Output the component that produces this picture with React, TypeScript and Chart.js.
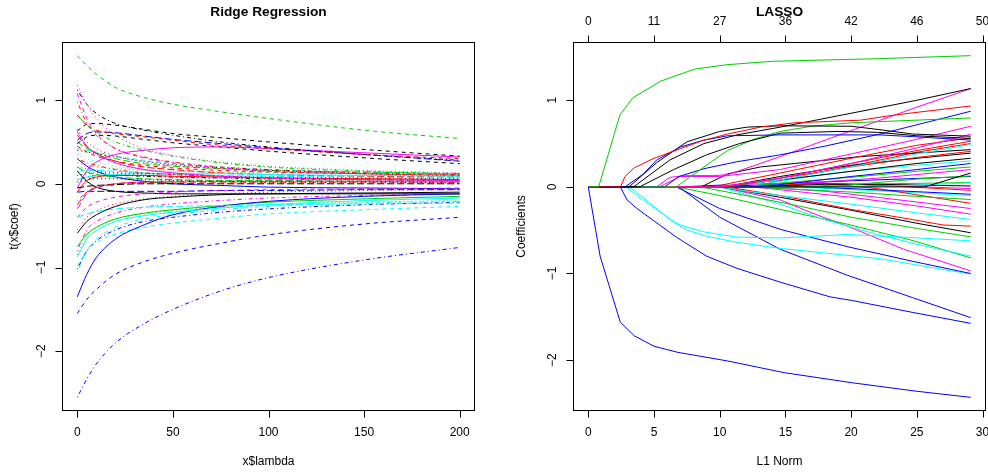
import React, { useEffect, useRef } from 'react';
import { Chart, registerables } from 'chart.js';
Chart.register(...registerables);

// ---------- Ridge regression data (coefficient paths vs lambda) ----------
const ridgeLambda = [0, 5, 10, 20, 35, 50, 75, 100, 150, 200];
const ridgeCoef: number[][] = [
  [-0.59, -0.45, -0.37, -0.27, -0.19, -0.16, -0.13, -0.12, -0.11, -0.10],
  [0.82, 0.70, 0.64, 0.60, 0.56, 0.52, 0.46, 0.42, 0.35, 0.30],
  [0.25, 0.22, 0.20, 0.18, 0.16, 0.15, 0.14, 0.13, 0.12, 0.11],
  [-2.55, -2.33, -2.15, -1.90, -1.67, -1.50, -1.28, -1.12, -0.91, -0.76],
  [-0.40, -0.36, -0.33, -0.30, -0.28, -0.27, -0.26, -0.25, -0.24, -0.23],
  [0.62, 0.45, 0.36, 0.25, 0.17, 0.13, 0.09, 0.07, 0.05, 0.04],
  [0.63, 0.71, 0.72, 0.70, 0.65, 0.60, 0.55, 0.50, 0.41, 0.33],
  [-0.55, -0.40, -0.32, -0.24, -0.18, -0.15, -0.12, -0.10, -0.08, -0.07],
  [0.82, 0.70, 0.62, 0.50, 0.40, 0.33, 0.25, 0.20, 0.15, 0.12],
  [0.52, 0.60, 0.62, 0.61, 0.57, 0.53, 0.48, 0.43, 0.35, 0.27],
  [-0.88, -0.66, -0.56, -0.45, -0.38, -0.34, -0.29, -0.25, -0.20, -0.17],
  [-0.40, -0.28, -0.22, -0.16, -0.12, -0.10, -0.08, -0.07, -0.06, -0.05],
  [0.02, 0.05, 0.06, 0.06, 0.05, 0.04, 0.03, 0.02, 0.02, 0.01],
  [0.30, 0.25, 0.22, 0.17, 0.13, 0.11, 0.09, 0.07, 0.06, 0.05],
  [0.20, 0.14, 0.11, 0.08, 0.06, 0.05, 0.04, 0.04, 0.03, 0.03],
  [-1.35, -1.08, -0.88, -0.66, -0.49, -0.37, -0.27, -0.21, -0.15, -0.12],
  [-0.98, -0.80, -0.70, -0.60, -0.52, -0.47, -0.41, -0.36, -0.31, -0.27],
  [1.18, 0.95, 0.78, 0.58, 0.42, 0.34, 0.26, 0.21, 0.16, 0.13],
  [1.12, 0.95, 0.84, 0.72, 0.64, 0.58, 0.50, 0.44, 0.35, 0.28],
  [-0.25, -0.10, -0.04, 0.00, 0.02, 0.02, 0.02, 0.02, 0.02, 0.02],
  [-0.75, -0.60, -0.52, -0.42, -0.35, -0.31, -0.26, -0.22, -0.18, -0.15],
  [-1.55, -1.38, -1.26, -1.08, -0.93, -0.83, -0.71, -0.61, -0.48, -0.40],
  [0.35, 0.30, 0.26, 0.21, 0.17, 0.15, 0.13, 0.11, 0.10, 0.09],
  [-0.80, -0.55, -0.45, -0.35, -0.28, -0.24, -0.20, -0.17, -0.14, -0.12],
  [-0.05, -0.03, -0.02, -0.01, 0.00, 0.00, 0.00, 0.00, 0.00, 0.00],
  [-0.10, 0.04, 0.08, 0.10, 0.10, 0.09, 0.08, 0.07, 0.06, 0.05],
  [1.53, 1.41, 1.31, 1.15, 1.03, 0.95, 0.86, 0.78, 0.64, 0.54],
  [0.10, 0.12, 0.13, 0.13, 0.12, 0.11, 0.09, 0.08, 0.07, 0.06],
  [-1.05, -0.80, -0.66, -0.52, -0.42, -0.37, -0.31, -0.27, -0.23, -0.21],
  [-0.30, -0.12, -0.05, 0.00, 0.02, 0.03, 0.03, 0.03, 0.03, 0.02],
  [0.15, 0.03, -0.04, -0.09, -0.11, -0.12, -0.12, -0.12, -0.12, -0.12],
  [0.45, 0.38, 0.33, 0.27, 0.22, 0.19, 0.16, 0.14, 0.12, 0.10],
  [-0.85, -0.62, -0.52, -0.42, -0.36, -0.32, -0.28, -0.25, -0.22, -0.20],
  [-1.02, -0.80, -0.68, -0.55, -0.45, -0.40, -0.34, -0.30, -0.25, -0.22],
  [0.15, 0.16, 0.16, 0.15, 0.13, 0.12, 0.10, 0.09, 0.08, 0.07],
  [-0.05, 0.16, 0.26, 0.35, 0.40, 0.43, 0.44, 0.42, 0.37, 0.32],
  [0.48, 0.56, 0.58, 0.57, 0.53, 0.49, 0.44, 0.39, 0.31, 0.24],
  [0.65, 0.50, 0.42, 0.33, 0.26, 0.22, 0.18, 0.15, 0.12, 0.11],
  [-0.20, -0.10, -0.05, -0.01, 0.01, 0.02, 0.03, 0.03, 0.03, 0.03],
  [-0.10, -0.09, -0.09, -0.09, -0.09, -0.09, -0.08, -0.08, -0.07, -0.07],
  [0.05, 0.08, 0.10, 0.11, 0.12, 0.12, 0.12, 0.11, 0.10, 0.09],
  [1.08, 0.78, 0.60, 0.42, 0.31, 0.25, 0.19, 0.15, 0.12, 0.10],
  [0.40, 0.38, 0.36, 0.32, 0.27, 0.23, 0.19, 0.16, 0.12, 0.09],
  [0.98, 0.72, 0.58, 0.42, 0.32, 0.26, 0.20, 0.17, 0.13, 0.11],
  [0.50, 0.42, 0.37, 0.30, 0.24, 0.21, 0.18, 0.16, 0.14, 0.12],
  [0.30, 0.21, 0.15, 0.08, 0.03, 0.00, -0.02, -0.04, -0.05, -0.06],
  [0.42, 0.40, 0.38, 0.33, 0.28, 0.24, 0.20, 0.17, 0.14, 0.12],
  [0.20, 0.18, 0.16, 0.13, 0.10, 0.08, 0.06, 0.05, 0.04, 0.03],
  [0.05, 0.08, 0.10, 0.10, 0.09, 0.08, 0.07, 0.06, 0.05, 0.04],
  [0.58, 0.44, 0.36, 0.27, 0.20, 0.17, 0.13, 0.11, 0.09, 0.08],
];
const ridgeXTicks = [0, 50, 100, 150, 200];
const ridgeYTicks = [-2, -1, 0, 1];

// ---------- LASSO data (coefficient paths vs L1 norm, knots [L1, coef]) ----------
const lassoPaths: number[][][] = [
  [[0, 0], [0.79, 0], [2.4, 0.83], [3.4, 1.03], [5.5, 1.22], [8.1, 1.36], [10.5, 1.41], [14, 1.45], [22, 1.48], [29.1, 1.515]],
  [[0, 0], [0.9, -0.8], [2.43, -1.56], [3.5, -1.72], [5, -1.84], [6.8, -1.91], [10.6, -2.01], [14.9, -2.145], [20, -2.26], [25, -2.36], [29.1, -2.43]],
  [[0, 0], [2.45, 0], [2.8, 0.12], [3.5, 0.22], [5, 0.33], [7, 0.44], [8.6, 0.53], [10.6, 0.61], [13.1, 0.69], [15.7, 0.74], [20.7, 0.77], [23.3, 0.83], [29.1, 0.934]],
  [[0, 0], [2.8, 0], [4.2, 0.15], [5.2, 0.31], [7, 0.46], [8.8, 0.54], [10.6, 0.59], [14.6, 0.6], [22.2, 0.6], [24.7, 0.58], [29.1, 0.54]],
  [[0, 0], [3.1, 0], [5.2, 0.28], [7.5, 0.52], [10, 0.64], [12.1, 0.69], [14.6, 0.705], [20, 0.7], [22.2, 0.66], [24.7, 0.61], [29.1, 0.585]],
  [[0, 0], [3.45, 0], [6.2, 0.31], [8.8, 0.5], [11.3, 0.6], [14.6, 0.69], [20, 0.85], [25, 1.0], [29.1, 1.135]],
  [[0, 0], [3.9, 0], [6.5, 0.2], [9, 0.37], [11.5, 0.5], [14.6, 0.62], [19, 0.64], [22, 0.63], [25, 0.59], [29.1, 0.56]],
  [[0, 0], [6.7, 0], [8.8, 0.23], [10.6, 0.42], [12.6, 0.55], [14.6, 0.64], [17, 0.7], [20, 0.74], [29.1, 0.796]],
  [[0, 0], [5.8, 0], [6.9, 0.12], [8.8, 0.21], [11.3, 0.29], [14.6, 0.37], [18, 0.47], [22.2, 0.61], [29.1, 0.873]],
  [[0, 0], [5.2, 0], [6.2, 0.11], [7.5, 0.13], [9.5, 0.13], [10.6, 0.14], [14.6, 0.35], [20, 0.65], [25, 0.92], [29.1, 1.135]],
  [[0, 0], [5.4, 0], [7, 0.12], [10, 0.12], [14.6, 0.2], [20, 0.38], [25, 0.55], [29.1, 0.7]],
  [[0, 0], [10, 0], [14.6, 0.1], [20, 0.27], [25, 0.45], [29.1, 0.608]],
  [[0, 0], [9.5, 0], [12, 0.08], [14.6, 0.16], [20, 0.33], [25, 0.48], [29.1, 0.565]],
  [[0, 0], [10.5, 0], [14.6, 0.1], [20, 0.27], [25, 0.42], [29.1, 0.527]],
  [[0, 0], [10.1, 0], [14.6, 0.08], [20, 0.23], [25, 0.38], [29.1, 0.489]],
  [[0, 0], [8.6, 0], [10.6, 0.15], [13.1, 0.23], [15.7, 0.27], [20.7, 0.35], [29.1, 0.43]],
  [[0, 0], [10.6, 0], [14.6, 0.1], [20, 0.23], [25, 0.34], [29.1, 0.41]],
  [[0, 0], [10.3, 0], [14.6, 0.12], [20, 0.25], [25, 0.33], [29.1, 0.39]],
  [[0, 0], [10.1, 0], [14.6, 0.08], [20, 0.18], [25, 0.27], [29.1, 0.33]],
  [[0, 0], [13.1, 0], [16, 0.05], [20, 0.12], [25, 0.2], [29.1, 0.27]],
  [[0, 0], [11.8, 0], [15, 0.05], [20, 0.11], [25, 0.18], [29.1, 0.23]],
  [[0, 0], [25.6, 0], [29.1, 0.16]],
  [[0, 0], [18.2, 0], [22, 0.05], [25, 0.09], [29.1, 0.127]],
  [[0, 0], [20.7, 0], [25, 0.02], [29.1, 0.046]],
  [[0, 0], [13, 0], [18, 0.03], [22, 0.03], [29.1, 0.01]],
  [[0, 0], [13, 0], [17, 0.04], [22, 0.02], [29.1, -0.04]],
  [[0, 0], [9, 0], [12, 0.03], [17, 0.05], [22, 0.02], [29.1, -0.02]],
  [[0, 0], [7, 0], [10, 0.02], [14.6, 0.01], [20, -0.02], [29.1, -0.085]],
  [[0, 0], [12, 0], [16, -0.03], [20, -0.06], [25, -0.11], [29.1, -0.146]],
  [[0, 0], [13, 0], [16, 0.03], [18, 0.04], [22, -0.02], [29.1, -0.19]],
  [[0, 0], [13, 0], [18, -0.05], [22, -0.12], [29.1, -0.25]],
  [[0, 0], [12.5, 0], [20, -0.12], [25, -0.22], [29.1, -0.315]],
  [[0, 0], [10, 0], [12, -0.05], [14.6, -0.1], [20, -0.2], [25, -0.3], [29.1, -0.376]],
  [[0, 0], [10.5, 0], [14.6, -0.1], [20, -0.26], [24, -0.36], [27, -0.44], [29.1, -0.453]],
  [[0, 0], [10, 0], [14.6, -0.12], [20, -0.27], [25, -0.42], [29.1, -0.53]],
  [[0, 0], [8.5, 0], [12, -0.1], [16, -0.22], [20, -0.35], [25, -0.48], [29.1, -0.577]],
  [[0, 0], [2.9, 0], [3.7, -0.1], [6.2, -0.37], [7, -0.44], [8.8, -0.52], [11.3, -0.58], [14.6, -0.59], [19.7, -0.55], [24, -0.58], [29.1, -0.623]],
  [[0, 0], [10, 0], [14.6, -0.2], [18, -0.38], [22, -0.55], [25.5, -0.68], [29.1, -0.8]],
  [[0, 0], [6.7, 0], [10, -0.1], [14.6, -0.26], [19.7, -0.43], [24.7, -0.62], [29.1, -0.82]],
  [[0, 0], [10, 0], [14.6, -0.15], [17, -0.3], [20, -0.47], [24, -0.72], [29.1, -0.97]],
  [[0, 0], [6.7, 0], [10, -0.25], [14.6, -0.49], [19.7, -0.69], [24.7, -0.86], [29.1, -1.0]],
  [[0, 0], [3.1, 0], [4, -0.1], [6.4, -0.4], [7.5, -0.5], [9, -0.57], [11.3, -0.64], [14.6, -0.71], [22.2, -0.83], [29.1, -1.007]],
  [[0, 0], [6.9, 0], [10, -0.35], [14.6, -0.72], [19.7, -1.02], [24.7, -1.28], [29.1, -1.51]],
  [[0, 0], [2.43, 0], [2.95, -0.15], [3.7, -0.25], [6.7, -0.58], [9, -0.8], [11.3, -0.94], [14.6, -1.1], [18.4, -1.27], [20, -1.31], [24.7, -1.45], [29.1, -1.576]],
  [[0, 0], [12, 0], [16, 0.1], [20, 0.18], [25, 0.25], [29.1, 0.3]],
  [[0, 0], [14, 0], [18, 0.06], [22, 0.1], [29.1, 0.2]],
  [[0, 0], [16, 0], [20, 0.03], [29.1, 0.05]],
  [[0, 0], [11, 0], [15, 0.04], [20, 0.07], [29.1, 0.12]],
  [[0, 0], [15, 0], [20, -0.03], [29.1, -0.1]],
  [[0, 0], [12.5, 0], [16, 0.12], [20, 0.24], [25, 0.4], [29.1, 0.5]],
];
const lassoColorIdx = [
  2, 3, 1, 3, 0, 0, 0, 2, 3, 5, 5, 5, 1, 1, 4, 0, 1, 0, 0, 3,
  2, 0, 2, 4, 0, 1, 5, 3, 2, 1, 5, 5, 4, 1, 0, 2, 4, 4, 2, 5,
  3, 4, 3, 3, 4, 5, 2, 3, 4, 1,
];
const lassoXTicks = [0, 5, 10, 15, 20, 25, 30];
const lassoYTicks = [-2, -1, 0, 1];
const lassoTopLabels = ['0', '11', '27', '36', '42', '46', '50'];

// ---------- styles ----------
const palette = ['#000000', '#FF0000', '#00CD00', '#0000FF', '#00FFFF', '#FF00FF'];
const ltyDash: number[][] = [[], [4, 4], [1, 3], [1, 3, 4, 3], [7, 3]];
const FONT = '"Liberation Sans", Arial, Helvetica, sans-serif';

function rRange(vals: number[]): [number, number] {
  const lo = Math.min(...vals);
  const hi = Math.max(...vals);
  const d = (hi - lo) * 0.04;
  return [lo - d, hi + d];
}

const fmt = (v: number) => (v < 0 ? '\u2212' + Math.abs(v) : String(v));

interface AxCfg {
  title: string;
  xTitle: string;
  yTitle: string;
  xTicks: number[];
  yTicks: number[];
  topLabels?: string[];
  yTitleOffset: number;
}

function makeAxesPlugin(cfg: AxCfg) {
  return {
    id: 'rAxes',
    afterDraw(chart: any) {
      const { ctx, chartArea: a, scales } = chart;
      const xs = scales.x;
      const ys = scales.y;
      ctx.save();
      ctx.strokeStyle = '#000';
      ctx.fillStyle = '#000';
      ctx.lineWidth = 1;
      ctx.setLineDash([]);
      const L = Math.round(a.left) + 0.5;
      const R = Math.round(a.right) - 0.5;
      const T = Math.round(a.top) + 0.5;
      const B = Math.round(a.bottom) - 0.5;
      ctx.strokeRect(L, T, R - L, B - T);

      ctx.font = '12px ' + FONT;
      ctx.textAlign = 'center';
      ctx.textBaseline = 'middle';
      // bottom axis
      ctx.beginPath();
      for (const v of cfg.xTicks) {
        const px = Math.round(xs.getPixelForValue(v)) + 0.5;
        ctx.moveTo(px, B);
        ctx.lineTo(px, B + 7);
      }
      ctx.stroke();
      for (const v of cfg.xTicks) {
        const px = xs.getPixelForValue(v);
        ctx.fillText(fmt(v), px, a.bottom + 22);
      }
      // top axis (degrees of freedom)
      if (cfg.topLabels) {
        ctx.beginPath();
        cfg.xTicks.forEach((v) => {
          const px = Math.round(xs.getPixelForValue(v)) + 0.5;
          ctx.moveTo(px, T);
          ctx.lineTo(px, T - 7);
        });
        ctx.stroke();
        cfg.xTicks.forEach((v, i) => {
          const px = xs.getPixelForValue(v);
          ctx.fillText(cfg.topLabels![i], px, a.top - 20.5);
        });
      }
      // left axis
      ctx.beginPath();
      for (const v of cfg.yTicks) {
        const py = Math.round(ys.getPixelForValue(v)) + 0.5;
        ctx.moveTo(L, py);
        ctx.lineTo(L - 7, py);
      }
      ctx.stroke();
      for (const v of cfg.yTicks) {
        const py = ys.getPixelForValue(v);
        ctx.save();
        ctx.translate(a.left - 20.5, py);
        ctx.rotate(-Math.PI / 2);
        ctx.fillText(fmt(v), 0, 0);
        ctx.restore();
      }
      // axis titles
      const cx = (a.left + a.right) / 2;
      const cy = (a.top + a.bottom) / 2;
      ctx.fillText(cfg.xTitle, cx, a.bottom + 51);
      ctx.save();
      ctx.translate(a.left - cfg.yTitleOffset, cy);
      ctx.rotate(-Math.PI / 2);
      ctx.fillText(cfg.yTitle, 0, 0);
      ctx.restore();
      // main title
      ctx.font = 'bold 13.7px ' + FONT;
      ctx.fillText(cfg.title, cx, 12.5);
      ctx.restore();
    },
  };
}

interface PanelProps {
  datasets: any[];
  xr: [number, number];
  yr: [number, number];
  cfg: AxCfg;
  padding: { left: number; right: number; top: number; bottom: number };
  left: number;
}

function Panel({ datasets, xr, yr, cfg, padding, left }: PanelProps) {
  const ref = useRef<HTMLCanvasElement>(null);
  useEffect(() => {
    const chart = new Chart(ref.current!, {
      type: 'line',
      data: { datasets },
      options: {
        animation: false,
        responsive: false,
        devicePixelRatio: 1,
        events: [],
        layout: { padding },
        plugins: {
          legend: { display: false },
          tooltip: { enabled: false },
          title: { display: false },
        },
        scales: {
          x: { type: 'linear', min: xr[0], max: xr[1], display: false },
          y: { type: 'linear', min: yr[0], max: yr[1], display: false },
        },
      },
      plugins: [makeAxesPlugin(cfg)],
    } as any);
    return () => chart.destroy();
  }, []);
  return (
    <canvas
      ref={ref}
      width={494}
      height={472}
      style={{ position: 'absolute', left, top: 0, width: 494, height: 472 }}
    />
  );
}

export default function App() {
  const ridgeSets = ridgeCoef.map((row, j) => ({
    data: row.map((y, i) => ({ x: ridgeLambda[i], y })),
    borderColor: palette[j % 6],
    borderDash: ltyDash[j % 5],
    borderWidth: 1,
    pointRadius: 0,
    cubicInterpolationMode: 'monotone',
    fill: false,
  }));
  const lassoSets = lassoPaths.map((p, k) => ({
    data: p.map(([x, y]) => ({ x, y })),
    borderColor: palette[lassoColorIdx[k]],
    borderWidth: 1,
    pointRadius: 0,
    tension: 0,
    fill: false,
  }));
  const ridgeXR = rRange(ridgeLambda);
  const ridgeYR = rRange(ridgeCoef.flat());
  const lassoXR = rRange(lassoPaths.flat().map((p) => p[0]));
  const lassoYR = rRange(lassoPaths.flat().map((p) => p[1]));
  return (
    <div style={{ position: 'absolute', left: 0, top: 0, width: 988, height: 472, background: '#fff', overflow: 'hidden' }}>
      <Panel
        datasets={ridgeSets}
        xr={ridgeXR}
        yr={ridgeYR}
        left={0}
        padding={{ left: 62, right: 19, top: 42, bottom: 61 }}
        cfg={{
          title: 'Ridge Regression',
          xTitle: 'x$lambda',
          yTitle: 't(x$coef)',
          xTicks: ridgeXTicks,
          yTicks: ridgeYTicks,
          yTitleOffset: 47,
        }}
      />
      <Panel
        datasets={lassoSets}
        xr={lassoXR}
        yr={lassoYR}
        left={494}
        padding={{ left: 79, right: 2, top: 42, bottom: 61 }}
        cfg={{
          title: 'LASSO',
          xTitle: 'L1 Norm',
          yTitle: 'Coefficients',
          xTicks: lassoXTicks,
          yTicks: lassoYTicks,
          topLabels: lassoTopLabels,
          yTitleOffset: 51,
        }}
      />
    </div>
  );
}
